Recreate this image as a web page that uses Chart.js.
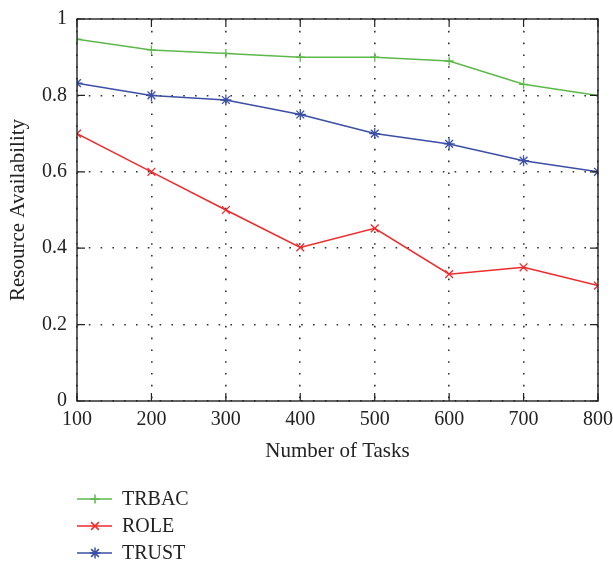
<!DOCTYPE html>
<html><head><meta charset="utf-8">
<script src="https://cdn.jsdelivr.net/npm/chart.js@4"></script>
<style>html,body{margin:0;padding:0;background:#fff}#wrap{width:613px;height:563px}</style>
</head><body><div id="wrap"><canvas id="c" width="613" height="563"></canvas></div>
<script>
const tasks = [100, 200, 300, 400, 500, 600, 700, 800];
const trbac = [0.947, 0.919, 0.910, 0.900, 0.900, 0.890, 0.829, 0.800];
const role  = [0.700, 0.600, 0.500, 0.402, 0.452, 0.332, 0.350, 0.302];
const trust = [0.832, 0.800, 0.788, 0.750, 0.700, 0.673, 0.629, 0.600];
const yTicks = [0, 0.2, 0.4, 0.6, 0.8, 1];
const seriesNames = ['TRBAC', 'ROLE', 'TRUST'];
const seriesColors = ['#5cb84a', '#ee2a2a', '#3a4fa5'];
const seriesPoints = ['cross', 'crossRot', 'star'];
const seriesRadius = [4.5, 5.5, 5.5];
const seriesValues = [trbac, role, trust];

const FONT = '"Liberation Serif", "DejaVu Serif", serif';

const datasets = seriesNames.map((name, i) => ({
  label: name,
  data: tasks.map((t, j) => ({x: t, y: seriesValues[i][j]})),
  borderColor: seriesColors[i],
  backgroundColor: seriesColors[i],
  borderWidth: 1.5,
  pointStyle: seriesPoints[i],
  pointRadius: seriesRadius[i],
  pointBorderWidth: 1.3,
  pointBorderColor: seriesColors[i],
  tension: 0,
  fill: false
}));

const framePlugin = {
  id: 'frame',
  afterDraw(chart) {
    const {ctx, chartArea: a, scales} = chart;
    ctx.save();
    ctx.strokeStyle = '#222';
    ctx.lineWidth = 1.4;
    ctx.setLineDash([]);
    ctx.strokeRect(a.left, a.top, a.right - a.left, a.bottom - a.top);
    const L = 8;
    ctx.lineWidth = 1.2;
    ctx.beginPath();
    scales.x.ticks.forEach(t => {
      const px = scales.x.getPixelForValue(t.value);
      ctx.moveTo(px, a.bottom); ctx.lineTo(px, a.bottom - L);
      ctx.moveTo(px, a.top); ctx.lineTo(px, a.top + L);
    });
    scales.y.ticks.forEach(t => {
      const py = scales.y.getPixelForValue(t.value);
      ctx.moveTo(a.left, py); ctx.lineTo(a.left + L, py);
      ctx.moveTo(a.right, py); ctx.lineTo(a.right - L, py);
    });
    ctx.stroke();
    // legend
    chart.data.datasets.forEach((ds, i) => {
      const y = 499 + i * 27;
      ctx.strokeStyle = ds.borderColor;
      ctx.lineWidth = 1.5;
      ctx.beginPath();
      ctx.moveTo(77, y); ctx.lineTo(112, y);
      ctx.stroke();
      Chart.helpers.drawPoint(ctx, {pointStyle: ds.pointStyle, radius: ds.pointRadius, rotation: 0, borderWidth: ds.pointBorderWidth}, 95, y);
      ctx.fillStyle = '#222';
      ctx.font = '20px ' + FONT;
      ctx.textBaseline = 'middle';
      ctx.textAlign = 'left';
      ctx.fillText(ds.label, 122, y + 1);
    });
    ctx.restore();
  }
};

const gridOpts = {color: '#333', lineWidth: 1.6, drawTicks: false};

new Chart(document.getElementById('c'), {
  type: 'line',
  data: {datasets},
  options: {
    responsive: false,
    animation: false,
    devicePixelRatio: 1,
    layout: {padding: {left: 0, top: 19, right: 15, bottom: 100}},
    plugins: {legend: {display: false}, tooltip: {enabled: false}},
    scales: {
      x: {
        type: 'linear', min: 100, max: 800,
        afterBuildTicks: s => { s.ticks = tasks.map(v => ({value: v})); },
        afterFit: s => { s.height = 62; s.paddingLeft = 0; s.paddingRight = 0; },
        grid: gridOpts,
        border: {display: false, dash: [1.6, 10.2]},
        ticks: {font: {family: FONT, size: 20}, color: '#222', padding: 7, maxRotation: 0, autoSkip: false},
        title: {display: true, text: 'Number of Tasks', font: {family: FONT, size: 21, lineHeight: 1}, color: '#222', padding: {top: 0, bottom: 1}}
      },
      y: {
        min: 0, max: 1,
        afterBuildTicks: s => { s.ticks = yTicks.map(v => ({value: v})); },
        afterFit: s => { s.width = 77; s.paddingTop = 0; s.paddingBottom = 0; },
        grid: gridOpts,
        border: {display: false, dash: [1.6, 10.2]},
        ticks: {font: {family: FONT, size: 20}, color: '#222', padding: 10, callback: v => String(v)},
        title: {display: true, text: 'Resource Availability', font: {family: FONT, size: 21, lineHeight: 1}, color: '#222', padding: {top: 7.5, bottom: 0}}
      }
    }
  },
  plugins: [framePlugin]
});
</script>
</body></html>
